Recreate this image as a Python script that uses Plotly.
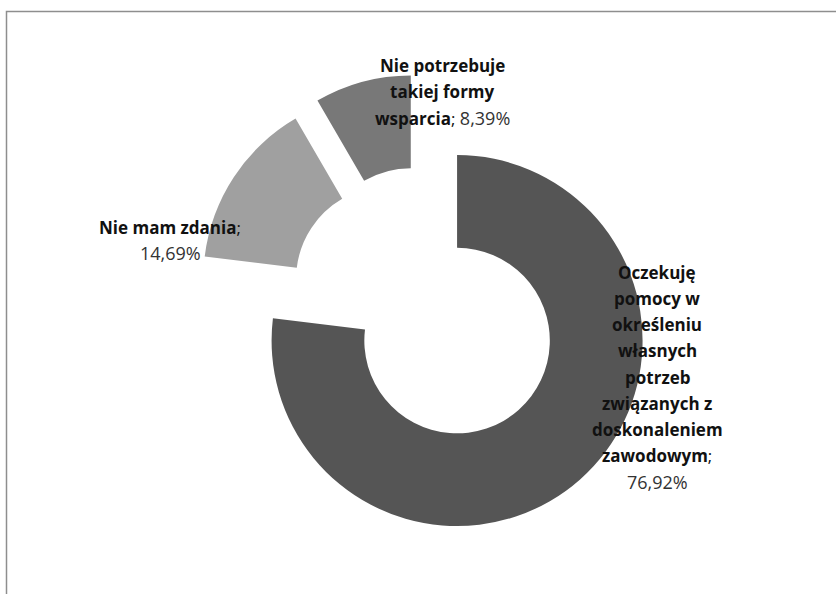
import plotly.graph_objects as go

# ---- data ----
categories = [
    "Oczekuję pomocy w określeniu własnych potrzeb związanych z doskonaleniem zawodowym",
    "Nie mam zdania",
    "Nie potrzebuje takiej formy wsparcia",
]
values = [76.92, 14.69, 8.39]
# category text as wrapped in the chart labels
label_wrap = [
    ["Oczekuję", "pomocy w", "określeniu", "własnych", "potrzeb",
     "związanych z", "doskonaleniem", "zawodowym"],
    ["Nie mam zdania"],
    ["Nie potrzebuje", "takiej formy", "wsparcia"],
]
value_same_line = [False, False, True]

# ---- style / layout ----
W, H = 836, 594
colors = ["#555555", "#a0a0a0", "#787878"]
pulls = [0.29, 0.21, 0.22]
R = 185.5
C0 = (421.4, 300.3)
S = R * (2 + 2 * max(pulls))
dom_x = [(C0[0] - S / 2) / W, (C0[0] + S / 2) / W]
dom_y = [1 - (C0[1] + S / 2) / H, 1 - (C0[1] - S / 2) / H]

# label anchor (centre x, first-line y, line step) in pixels
label_pos = [(657, 272, 26.25), (170, 227, 26.0), (443, 65, 26.5)]

FONT = "Open Sans"

fig = go.Figure()
fig.add_trace(go.Pie(
    labels=categories,
    values=values,
    sort=False,
    direction="clockwise",
    rotation=0,
    hole=0.5,
    pull=pulls,
    marker=dict(colors=colors, line=dict(width=0)),
    textinfo="none",
    hoverinfo="label+percent",
    showlegend=False,
    domain=dict(x=dom_x, y=dom_y),
))

def fmt(v):
    return f"{v:.2f}".replace(".", ",") + "%"

def val_span(v):
    return f"<span style='font-size:18px;color:#333333'>{fmt(v)}</span>"

annotations = []
for i, cat_lines in enumerate(label_wrap):
    lines = [f"<b>{t}</b>" for t in cat_lines]
    if value_same_line[i]:
        lines[-1] = lines[-1] + "; " + val_span(values[i])
    else:
        lines[-1] = lines[-1] + ";"
        lines.append(val_span(values[i]))
    cx, y0, step = label_pos[i]
    for k, txt in enumerate(lines):
        py = y0 + k * step
        annotations.append(dict(
            x=cx / W, y=1 - py / H, xref="paper", yref="paper",
            text=txt, showarrow=False, xanchor="center", yanchor="middle",
            font=dict(family=FONT, size=17, color="#111111"),
        ))

fig.update_layout(
    width=W, height=H,
    margin=dict(l=0, r=0, t=0, b=0),
    paper_bgcolor="white",
    plot_bgcolor="white",
    annotations=annotations,
    shapes=[dict(
        type="rect", xref="paper", yref="paper",
        x0=6.5 / W, y0=-0.02, x1=1.02, y1=1 - 11.5 / H,
        line=dict(color="#8e8e8e", width=1.5),
        fillcolor="rgba(0,0,0,0)",
        layer="below",
    )],
)

fig.write_html("out.html", config={"displayModeBar": False},
               post_script="document.body.style.margin='0';")
